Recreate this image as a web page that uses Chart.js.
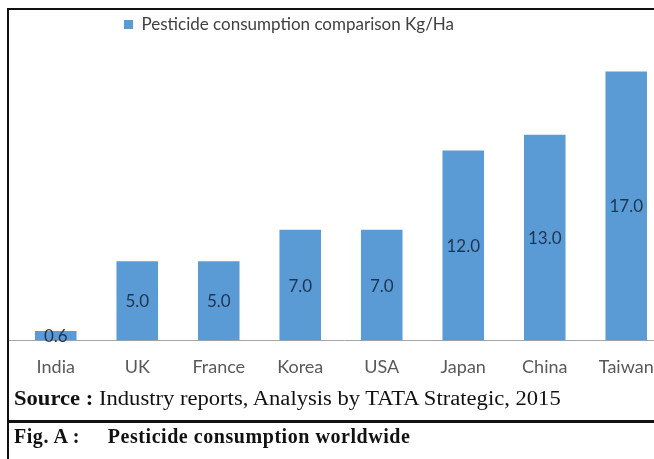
<!DOCTYPE html>
<html>
<head>
<meta charset="utf-8">
<script src="https://cdn.jsdelivr.net/npm/chart.js@4.4.1/dist/chart.umd.min.js"></script>
<style>
  html, body { margin: 0; padding: 0; width: 654px; height: 459px; overflow: hidden; background: #fff; }
  #wrap { position: relative; width: 654px; height: 459px; overflow: hidden; }
  #c { position: absolute; left: 0; top: 0; }
  .bl { position: absolute; background: #111; }
  .txt { position: absolute; font-family: "Liberation Serif", "DejaVu Serif", serif; color: #111; white-space: nowrap; }
</style>
</head>
<body>
<div id="wrap">
  <canvas id="c" width="680" height="459"></canvas>
  <div class="bl" style="left:7px; top:8px; width:647px; height:2px;"></div>
  <div class="bl" style="left:7px; top:8px; width:2px; height:451px;"></div>
  <div class="bl" style="left:7px; top:420px; width:647px; height:3px;"></div>
  <div class="txt" id="src" style="left:14px; top:387px; font-size:20px; transform:scaleX(1.13); transform-origin:0 0;"><b>Source :</b> Industry reports, Analysis by TATA Strategic, 2015</div>
  <div class="txt" id="fig" style="left:14px; top:425px; font-size:20px; font-weight:bold; letter-spacing:0.55px;">Fig. A :&nbsp;&nbsp;&nbsp;&nbsp;&nbsp;Pesticide consumption worldwide</div>
</div>
<script>
const categories = ["India", "UK", "France", "Korea", "USA", "Japan", "China", "Taiwan"];
const consumption = [0.6, 5.0, 5.0, 7.0, 7.0, 12.0, 13.0, 17.0];
const seriesName = "Pesticide consumption comparison Kg/Ha";

const labelFont = '"Lato", "Open Sans", sans-serif';

const centerLabels = {
  id: 'centerLabels',
  afterDatasetsDraw(chart) {
    const ctx = chart.ctx;
    const meta = chart.getDatasetMeta(0);
    ctx.save();
    ctx.font = '17px ' + labelFont;
    ctx.fillStyle = '#1f3350';
    ctx.textAlign = 'center';
    ctx.textBaseline = 'middle';
    meta.data.forEach((bar, i) => {
      const v = chart.data.datasets[0].data[i];
      const y = (bar.y + bar.base) / 2;
      ctx.fillText(v.toFixed(1), bar.x, y + 1);
    });
    ctx.restore();
  }
};

const baseline = {
  id: 'baseline',
  beforeDatasetsDraw(chart) {
    const ctx = chart.ctx;
    const y = Math.round(chart.scales.y.getPixelForValue(0)) + 0.5;
    ctx.save();
    ctx.strokeStyle = '#a6a6a6';
    ctx.lineWidth = 1;
    ctx.beginPath();
    ctx.moveTo(9, y);
    ctx.lineTo(chart.width, y);
    ctx.stroke();
    ctx.restore();
  }
};

const shiftLegend = {
  id: 'shiftLegend',
  afterLayout(chart) {
    const lg = chart.legend;
    if (lg) { lg.left -= 52; lg.right -= 52; }
  }
};

new Chart(document.getElementById('c'), {
  type: 'bar',
  data: {
    labels: categories,
    datasets: [{
      label: seriesName,
      data: consumption,
      backgroundColor: '#5b9bd5',
      borderWidth: 0,
      categoryPercentage: 1.0,
      barPercentage: 0.51
    }]
  },
  options: {
    responsive: false,
    animation: false,
    devicePixelRatio: 1,
    layout: { padding: { left: 15, right: 13, top: 6, bottom: 65 } },
    plugins: {
      legend: {
        display: true,
        position: 'top',
        align: 'center',
        labels: {
          boxWidth: 9,
          boxHeight: 9,
          padding: 10,
          color: '#404040',
          font: { family: labelFont, size: 17 }
        }
      },
      tooltip: { enabled: false }
    },
    scales: {
      x: {
        grid: { display: false, drawTicks: false },
        border: { display: false },
        ticks: {
          color: '#595959',
          padding: 16,
          font: { family: labelFont, size: 18 }
        }
      },
      y: {
        display: false,
        min: 0,
        max: 18.8
      }
    }
  },
  plugins: [centerLabels, baseline, shiftLegend]
});
</script>
</body>
</html>
